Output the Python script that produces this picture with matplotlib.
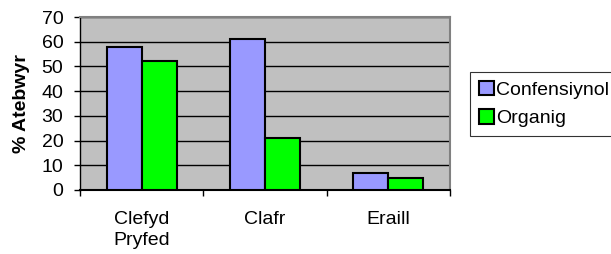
import matplotlib.pyplot as plt
import numpy as np

plt.rcParams['font.family'] = ['Liberation Sans', 'DejaVu Sans']

categories = ['Clefyd\nPryfed', 'Clafr', 'Eraill']
confensiynol = [58, 61, 7]
organig = [52, 21, 5]

fig = plt.figure(figsize=(6.11, 2.54), dpi=100)
ax = fig.add_axes([0.131, 0.252, 0.6055, 0.681])
ax.set_facecolor('#C0C0C0')

x = np.arange(len(categories))
w = 0.285
ax.bar(x - w / 2, confensiynol, w, color='#9999FF', edgecolor='black', linewidth=1.5,
       label='Confensiynol', zorder=3)
ax.bar(x + w / 2, organig, w, color='#00FF00', edgecolor='black', linewidth=1.5,
       label='Organig', zorder=3)

ax.set_xlim(-0.5, 2.5)
ax.set_ylim(0, 70)
ax.set_yticks(range(0, 71, 10))
ax.yaxis.grid(True, color='black', linewidth=1, zorder=1)

# category labels between boundary ticks
ax.set_xticks([-0.5, 0.5, 1.5, 2.5])
ax.set_xticklabels([])
ax.set_xticks(x, minor=True)
ax.set_xticklabels(categories, minor=True, fontsize=14, linespacing=1.35)
ax.tick_params(axis='x', which='minor', length=0, pad=15)
ax.tick_params(axis='x', which='major', length=4, width=1, color='black')
ax.tick_params(axis='y', length=4, width=1, labelsize=14, pad=8)

for s in ['top', 'right']:
    ax.spines[s].set_color('#808080')
    ax.spines[s].set_linewidth(1.5)
ax.spines['left'].set_linewidth(1)
ax.spines['bottom'].set_linewidth(1.5)

ax.set_ylabel('% Atebwyr', fontsize=14, fontweight='bold', labelpad=8)

leg = ax.legend(loc='upper left', bbox_to_anchor=(1.055, 0.682), frameon=True,
                fancybox=False, edgecolor='black', fontsize=14, handlelength=0.75,
                handleheight=0.75, handletextpad=0.1, borderpad=0.45, labelspacing=0.55,
                borderaxespad=0)
leg.get_frame().set_linewidth(0.8)

fig.savefig('out.png', dpi=100)
